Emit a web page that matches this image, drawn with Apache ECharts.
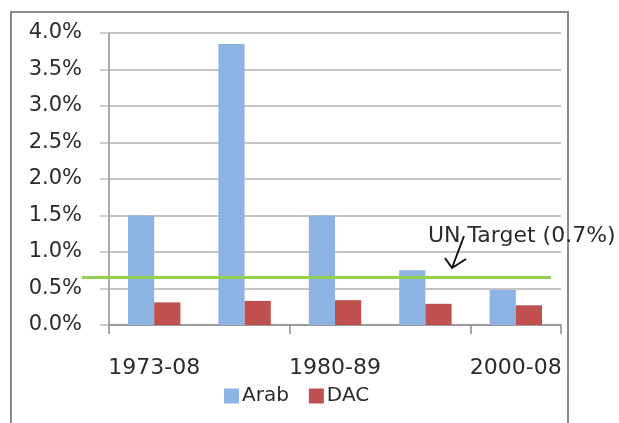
<!DOCTYPE html>
<html>
<head>
<meta charset="utf-8">
<script src="https://cdn.jsdelivr.net/npm/echarts@6/dist/echarts.min.js"></script>
<style>
  html, body { margin: 0; padding: 0; background: #fff; }
  #main { width: 619px; height: 423px; }
</style>
</head>
<body>
<div id="main"></div>
<script>
const periods = ["1973-08", "1973-79", "1980-89", "1990-99", "2000-08"];
const arab = [1.5, 3.85, 1.5, 0.75, 0.48];
const dac = [0.31, 0.33, 0.34, 0.29, 0.27];
const yTicks = [0, 0.5, 1, 1.5, 2, 2.5, 3, 3.5, 4];
const unTarget = 0.65;
const unLabel = "UN Target (0.7%)";

const font = "DejaVu Sans";
const textColor = "#2b2b2b";

var myChart = echarts.init(document.getElementById("main"), null, { renderer: "canvas" });

const options = {
  animation: false,
  grid: { left: 109, right: 58, top: 33, bottom: 98 },
  legend: {
    data: ["Arab", "DAC"],
    left: 219,
    top: 381,
    itemWidth: 15,
    itemHeight: 15,
    itemGap: 20,
    icon: "rect",
    textStyle: { fontFamily: font, fontSize: 20, color: textColor, padding: [0, 0, 0, -2] }
  },
  xAxis: {
    type: "category",
    data: periods,
    axisLine: { lineStyle: { color: "#8c8c8c", width: 1.5 } },
    axisTick: { show: true, length: 9, lineStyle: { color: "#8c8c8c", width: 1.5 } },
    axisLabel: { interval: 1, margin: 32, fontFamily: font, fontSize: 22, color: textColor }
  },
  yAxis: {
    type: "value",
    min: yTicks[0],
    max: yTicks[yTicks.length - 1],
    interval: 0.5,
    axisLine: { show: true, lineStyle: { color: "#8c8c8c", width: 1.5 } },
    axisTick: { show: true, length: 9, lineStyle: { color: "#bdbdbd", width: 1.5 } },
    splitLine: { lineStyle: { color: "#c4c4c4", width: 2 } },
    axisLabel: {
      margin: 27,
      fontFamily: font,
      fontSize: 21,
      color: textColor,
      formatter: (v) => v.toFixed(1) + "%"
    }
  },
  series: [
    {
      name: "Arab",
      type: "bar",
      data: arab,
      barGap: "0%",
      barCategoryGap: "42%",
      itemStyle: { color: "#8db3e2" },
      markLine: {
        silent: true,
        symbol: ["none", "none"],
        label: { show: false },
        lineStyle: { color: "#92d050", width: 3, type: "solid" },
        data: [[{ x: 82, yAxis: unTarget }, { x: 551, yAxis: unTarget }]]
      }
    },
    {
      name: "DAC",
      type: "bar",
      data: dac,
      itemStyle: { color: "#c0504d" }
    }
  ],
  graphic: [
    {
      type: "rect",
      shape: { x: 11, y: 12, width: 557, height: 430 },
      style: { fill: "none", stroke: "#8a8a8a", lineWidth: 2 },
      silent: true,
      z: -1
    },
    {
      type: "text",
      left: 428,
      top: 225,
      style: { text: unLabel, font: "22px 'DejaVu Sans'", fill: textColor },
      z: 10
    },
    {
      type: "polyline",
      shape: { points: [[464, 236], [452, 268]] },
      style: { stroke: "#111", lineWidth: 2, fill: "none" },
      z: 10
    },
    {
      type: "polyline",
      shape: { points: [[445, 258], [452, 268], [466, 259]] },
      style: { stroke: "#111", lineWidth: 2, fill: "none" },
      z: 10
    }
  ]
};

myChart.setOption(options);
window.onresize = function() {
  myChart.resize();
};
</script>
</body>
</html>
